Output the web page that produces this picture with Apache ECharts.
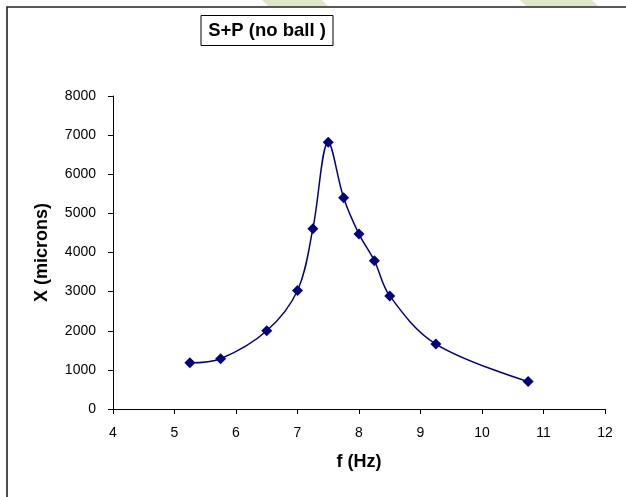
<!DOCTYPE html>
<html><head><meta charset="utf-8">
<script src="https://cdn.jsdelivr.net/npm/echarts@6/dist/echarts.min.js"></script>
<style>html,body{margin:0;padding:0;background:#fff}#c{width:626px;height:497px}</style>
</head><body><div id="c"></div>
<script>
var freq = [5.25, 5.75, 6.5, 7.0, 7.25, 7.5, 7.75, 8.0, 8.25, 8.5, 9.25, 10.75];
var amp = [1180, 1285, 2000, 3030, 4610, 6820, 5400, 4470, 3790, 2890, 1660, 700];
var titleText = 'S+P (no ball )';
var xName = 'f (Hz)';
var yName = 'X (microns)';

var data = freq.map(function (f, i) { return [f, amp[i]]; });
var chart = echarts.init(document.getElementById('c'), null, {renderer: 'canvas'});
var FF = '"Liberation Sans", Arial, sans-serif';
chart.setOption({
  animation: false,
  backgroundColor: '#fff',
  graphic: [
    {type: 'polygon', shape: {points: [[262, 0], [322, 0], [328, 6], [268, 6]]}, style: {fill: '#dde8c8'}, z: -1},
    {type: 'polygon', shape: {points: [[520, 0], [592, 0], [598, 6], [526, 6]]}, style: {fill: '#dde8c8'}, z: -1},
    {type: 'rect', shape: {x: 7, y: 7, width: 640, height: 520}, style: {fill: 'none', stroke: '#222', lineWidth: 1.6}},
    {type: 'rect', shape: {x: 201, y: 15.5, width: 132, height: 30}, style: {fill: '#fff', stroke: '#000', lineWidth: 1}},
    {type: 'text', x: 267, y: 31, style: {text: titleText, font: 'bold 18.5px ' + FF, fill: '#000', textAlign: 'center', textVerticalAlign: 'middle'}}
  ],
  grid: {left: 113, right: 21, top: 96, bottom: 88, containLabel: false},
  xAxis: {
    type: 'value', min: 4, max: 12, interval: 1,
    name: xName, nameLocation: 'middle', nameGap: 44,
    nameTextStyle: {fontFamily: FF, fontWeight: 'bold', fontSize: 18, color: '#000'},
    axisLine: {lineStyle: {color: '#000', width: 1}},
    axisTick: {show: true, inside: false, length: 5, lineStyle: {color: '#000'}},
    axisLabel: {fontFamily: FF, fontSize: 14, color: '#000', margin: 17},
    splitLine: {show: false}
  },
  yAxis: {
    type: 'value', min: 0, max: 8000, interval: 1000,
    name: yName, nameLocation: 'middle', nameGap: 62, nameRotate: 90,
    nameTextStyle: {fontFamily: FF, fontWeight: 'bold', fontSize: 18, color: '#000'},
    axisLine: {show: true, lineStyle: {color: '#000', width: 1}},
    axisTick: {show: true, inside: false, length: 5, lineStyle: {color: '#000'}},
    axisLabel: {fontFamily: FF, fontSize: 14, color: '#000', margin: 17, formatter: function (v) { return String(v); }},
    splitLine: {show: false}
  },
  series: [{
    type: 'line', data: data, smooth: 0.35,
    symbol: 'diamond', symbolSize: 11,
    lineStyle: {color: '#000080', width: 1.5},
    itemStyle: {color: '#000080'}
  }]
});
</script></body></html>
